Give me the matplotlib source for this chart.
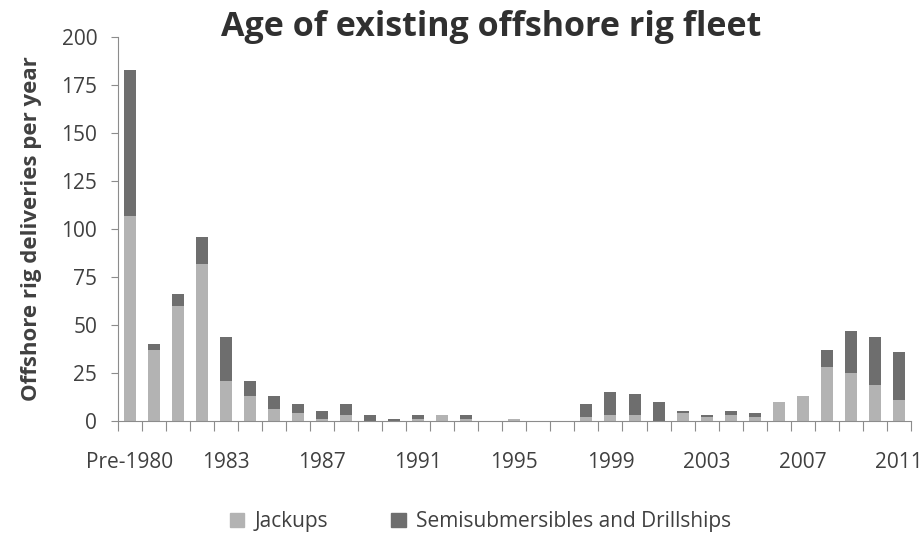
import numpy as np
import matplotlib
matplotlib.use("Agg")
import matplotlib.pyplot as plt
from matplotlib.patches import Patch

years = ["Pre-1980"] + [str(y) for y in range(1980, 2012)]
jackups = [107, 37, 60, 82, 21, 13, 6, 4, 1, 3, 0, 0,
           1, 3, 1, 0, 1, 0, 0, 2, 3, 3, 0, 4,
           2, 3, 2, 10, 13, 28, 25, 19, 11]
semis = [76, 3, 6, 14, 23, 8, 7, 5, 4, 6, 3, 1,
         2, 0, 2, 0, 0, 0, 0, 7, 12, 11, 10, 1,
         1, 2, 2, 0, 0, 9, 22, 25, 25]

jack_color = "#b3b3b3"
semi_color = "#6e6e6e"
text_color = "#404040"

plt.rcParams["font.family"] = ["Open Sans", "DejaVu Sans"]

fig = plt.figure(figsize=(9.24, 5.39), dpi=100)
ax = fig.add_axes([0.1277, 0.219, 0.858, 0.712])

x = np.arange(len(years))
ax.bar(x, jackups, width=0.5, color=jack_color, label="Jackups")
ax.bar(x, semis, width=0.5, bottom=jackups, color=semi_color,
       label="Semisubmersibles and Drillships")

ax.set_xlim(-0.5, len(years) - 0.5)
ax.set_ylim(0, 200)
ax.set_yticks(np.arange(0, 201, 25))

# category ticks between bars, labels every fourth bar
ax.set_xticks(np.arange(-0.5, len(years), 1.0))
ax.set_xticklabels([])
ax.set_xticks(x[::4], minor=True)
ax.set_xticklabels([years[i] for i in x[::4]], minor=True)
ax.tick_params(axis="x", which="minor", length=0, pad=22,
               labelsize=15, labelcolor=text_color)
ax.tick_params(axis="x", which="major", length=7, color="#8c8c8c", direction="out")
ax.tick_params(axis="y", length=5, color="#8c8c8c", labelsize=15,
               labelcolor=text_color, pad=10)

for s in ["top", "right"]:
    ax.spines[s].set_visible(False)
for s in ["left", "bottom"]:
    ax.spines[s].set_color("#8c8c8c")

ax.set_ylabel("Offshore rig deliveries per year", fontsize=16,
              fontweight="bold", color=text_color, labelpad=14)
fig.text(0.532, 0.95, "Age of existing offshore rig fleet", fontsize=24.5,
         fontweight="bold", color="#303030", ha="center", va="center")

handles = [Patch(color=jack_color, label="Jackups"),
           Patch(color=semi_color, label="Semisubmersibles and Drillships")]
fig.legend(handles=handles, loc="center", bbox_to_anchor=(0.52, 0.032),
           ncol=2, frameon=False, fontsize=15, handlelength=0.7,
           handleheight=0.7, columnspacing=3.0, handletextpad=0.5,
           labelcolor=text_color)

fig.savefig("out.png", dpi=100)
